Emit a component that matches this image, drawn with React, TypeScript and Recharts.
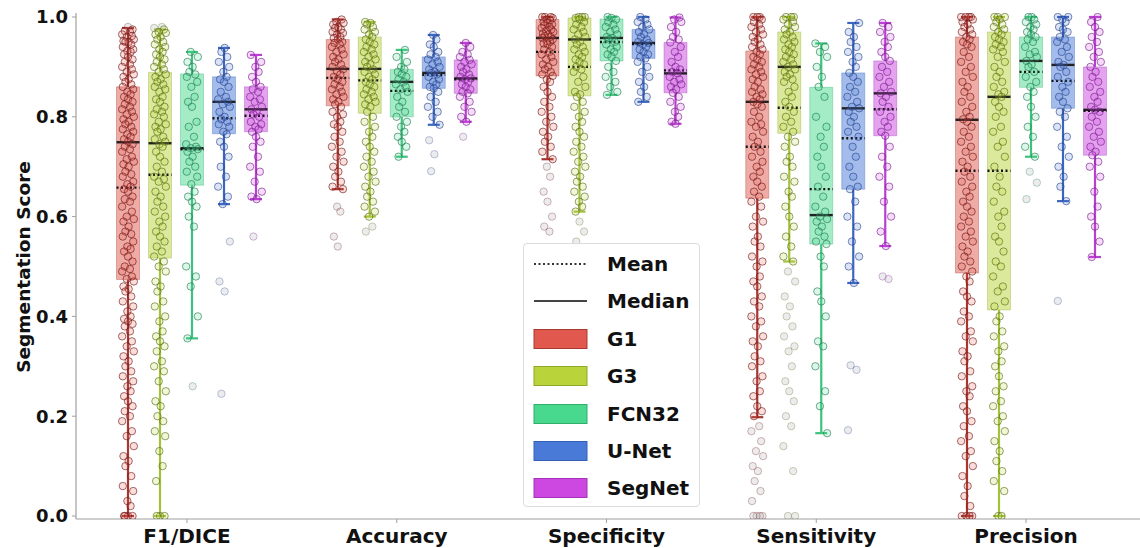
import React from 'react';
import { ScatterChart, Scatter, XAxis, YAxis, ReferenceArea, ReferenceLine } from 'recharts';

// ---------- categories ----------
const METRICS = ['F1/DICE', 'Accuracy', 'Specificity', 'Sensitivity', 'Precision'];
const MODELS = ['G1', 'G3', 'FCN32', 'U-Net', 'SegNet'];
const Y_TICKS = [0, 0.2, 0.4, 0.6, 0.8, 1.0];

// ---------- box statistics, per model, in METRICS order ----------
const G1_LO = [0, 0.655, 0.715, 0.198, 0];
const G1_Q1 = [0.474, 0.822, 0.882, 0.637, 0.487];
const G1_MED = [0.749, 0.896, 0.958, 0.83, 0.794];
const G1_MEAN = [0.658, 0.878, 0.93, 0.74, 0.692];
const G1_Q3 = [0.86, 0.955, 0.995, 0.932, 0.96];
const G1_HI = [0.978, 0.995, 1.0, 1.0, 1.0];

const G3_LO = [0, 0.6, 0.61, 0.51, 0];
const G3_Q1 = [0.517, 0.807, 0.842, 0.767, 0.413];
const G3_MED = [0.747, 0.896, 0.955, 0.9, 0.84];
const G3_MEAN = [0.684, 0.873, 0.9, 0.818, 0.692];
const G3_Q3 = [0.889, 0.96, 0.998, 0.97, 0.97];
const G3_HI = [0.975, 0.99, 1.0, 1.0, 1.0];

const FCN_LO = [0.356, 0.72, 0.844, 0.166, 0.72];
const FCN_Q1 = [0.663, 0.8, 0.912, 0.545, 0.859];
const FCN_MED = [0.737, 0.87, 0.958, 0.603, 0.912];
const FCN_MEAN = [0.735, 0.852, 0.95, 0.655, 0.89];
const FCN_Q3 = [0.886, 0.895, 0.996, 0.859, 0.96];
const FCN_HI = [0.93, 0.934, 1.0, 0.947, 1.0];

const UNET_LO = [0.625, 0.784, 0.83, 0.467, 0.631];
const UNET_Q1 = [0.766, 0.857, 0.917, 0.655, 0.817];
const UNET_MED = [0.83, 0.888, 0.948, 0.817, 0.904];
const UNET_MEAN = [0.797, 0.884, 0.946, 0.757, 0.872];
const UNET_Q3 = [0.88, 0.92, 0.975, 0.888, 0.96];
const UNET_HI = [0.938, 0.964, 1.0, 0.988, 1.0];

const SEG_LO = [0.635, 0.79, 0.786, 0.541, 0.519];
const SEG_Q1 = [0.77, 0.847, 0.848, 0.762, 0.723];
const SEG_MED = [0.815, 0.877, 0.887, 0.847, 0.814];
const SEG_MEAN = [0.802, 0.875, 0.893, 0.815, 0.812];
const SEG_Q3 = [0.86, 0.914, 0.949, 0.912, 0.9];
const SEG_HI = [0.924, 0.948, 0.999, 0.988, 1.0];

// ---------- individual scores (strip points) ----------
const G1_F1 = [0.98,0.975,0.972,0.97,0.965,0.962,0.96,0.955,0.952,0.95,0.95,0.945,0.94,0.935,0.932,0.93,0.925,0.92,0.915,0.91,0.905,0.9,0.895,0.89,0.885,0.88,0.875,0.87,0.865,0.86,0.855,0.85,0.845,0.84,0.835,0.83,0.825,0.82,0.815,0.81,0.805,0.8,0.795,0.79,0.785,0.78,0.775,0.77,0.765,0.76,0.755,0.75,0.745,0.74,0.735,0.73,0.72,0.715,0.71,0.705,0.7,0.69,0.685,0.68,0.67,0.665,0.66,0.655,0.65,0.64,0.635,0.63,0.62,0.61,0.6,0.595,0.59,0.58,0.57,0.565,0.56,0.55,0.54,0.535,0.53,0.52,0.51,0.5,0.495,0.49,0.48,0.475,0.47,0.46,0.455,0.45,0.44,0.43,0.42,0.41,0.4,0.395,0.39,0.385,0.38,0.37,0.36,0.35,0.34,0.33,0.32,0.31,0.3,0.29,0.28,0.27,0.26,0.25,0.24,0.23,0.22,0.21,0.2,0.19,0.17,0.16,0.14,0.12,0.11,0.1,0.08,0.06,0.05,0.03,0.02,0,0,0,0];
const G1_ACC = [0.995,0.99,0.988,0.985,0.98,0.978,0.975,0.97,0.968,0.965,0.96,0.958,0.955,0.95,0.948,0.945,0.94,0.935,0.93,0.925,0.92,0.915,0.91,0.905,0.9,0.895,0.89,0.885,0.88,0.875,0.87,0.865,0.86,0.855,0.85,0.845,0.84,0.835,0.83,0.825,0.82,0.81,0.805,0.8,0.79,0.785,0.78,0.77,0.76,0.75,0.74,0.73,0.72,0.71,0.7,0.69,0.68,0.67,0.66,0.655,0.62,0.61,0.56,0.54];
const G1_SPEC = [1,1,1,0.998,0.995,0.993,0.99,0.988,0.985,0.983,0.98,0.978,0.975,0.972,0.97,0.967,0.965,0.962,0.96,0.958,0.955,0.952,0.95,0.947,0.945,0.94,0.935,0.93,0.925,0.92,0.915,0.91,0.905,0.9,0.895,0.89,0.885,0.882,0.875,0.87,0.86,0.85,0.84,0.83,0.82,0.81,0.8,0.79,0.78,0.77,0.76,0.75,0.74,0.73,0.715,0.7,0.68,0.65,0.63,0.6,0.58,0.57];
const G1_SENS = [1,1,1,0.995,0.99,0.985,0.98,0.975,0.97,0.965,0.96,0.955,0.95,0.945,0.94,0.935,0.93,0.925,0.92,0.915,0.91,0.905,0.9,0.895,0.89,0.885,0.88,0.875,0.87,0.86,0.855,0.85,0.845,0.84,0.835,0.83,0.825,0.82,0.81,0.8,0.79,0.785,0.78,0.77,0.76,0.75,0.74,0.73,0.72,0.71,0.7,0.69,0.68,0.67,0.66,0.65,0.64,0.63,0.62,0.6,0.59,0.58,0.56,0.55,0.54,0.52,0.51,0.5,0.48,0.47,0.46,0.44,0.43,0.42,0.4,0.39,0.38,0.36,0.35,0.34,0.32,0.31,0.3,0.28,0.27,0.25,0.24,0.22,0.21,0.2,0.18,0.17,0.15,0.13,0.12,0.1,0.09,0.07,0.05,0.03,0,0,0,0];
const G1_PREC = [1,1,1,1,0.995,0.99,0.985,0.98,0.975,0.97,0.965,0.96,0.955,0.95,0.945,0.94,0.93,0.92,0.91,0.9,0.89,0.88,0.87,0.86,0.85,0.84,0.83,0.82,0.81,0.8,0.795,0.79,0.78,0.77,0.76,0.75,0.74,0.73,0.72,0.71,0.7,0.69,0.68,0.67,0.66,0.65,0.64,0.63,0.62,0.61,0.6,0.59,0.58,0.57,0.56,0.55,0.54,0.53,0.52,0.51,0.5,0.49,0.48,0.47,0.45,0.44,0.43,0.41,0.4,0.39,0.37,0.36,0.35,0.33,0.32,0.31,0.29,0.28,0.26,0.25,0.24,0.22,0.21,0.19,0.18,0.16,0.15,0.13,0.12,0.1,0.08,0.06,0.04,0.02,0,0,0,0];

const G3_F1 = [0.98,0.978,0.975,0.97,0.968,0.965,0.96,0.955,0.95,0.945,0.94,0.935,0.93,0.925,0.92,0.915,0.91,0.905,0.9,0.895,0.89,0.885,0.88,0.875,0.87,0.865,0.86,0.855,0.85,0.84,0.835,0.83,0.82,0.815,0.81,0.805,0.8,0.79,0.785,0.78,0.775,0.77,0.76,0.755,0.75,0.745,0.74,0.73,0.72,0.71,0.7,0.69,0.68,0.675,0.67,0.66,0.65,0.64,0.63,0.62,0.61,0.6,0.59,0.58,0.57,0.56,0.55,0.54,0.53,0.52,0.51,0.5,0.49,0.47,0.46,0.45,0.43,0.42,0.4,0.39,0.37,0.36,0.35,0.34,0.33,0.31,0.3,0.29,0.27,0.25,0.23,0.22,0.2,0.19,0.17,0.16,0.13,0.1,0.07,0,0,0];
const G3_ACC = [0.99,0.988,0.985,0.98,0.975,0.97,0.965,0.96,0.955,0.95,0.945,0.94,0.935,0.93,0.925,0.92,0.915,0.91,0.905,0.9,0.895,0.89,0.885,0.88,0.875,0.87,0.865,0.86,0.855,0.85,0.845,0.84,0.835,0.83,0.825,0.82,0.81,0.8,0.79,0.78,0.77,0.76,0.75,0.74,0.73,0.72,0.71,0.7,0.69,0.68,0.67,0.66,0.65,0.64,0.63,0.62,0.61,0.6,0.58,0.57];
const G3_SPEC = [1,1,1,0.998,0.995,0.99,0.985,0.98,0.975,0.97,0.965,0.96,0.955,0.95,0.945,0.94,0.935,0.93,0.925,0.92,0.915,0.91,0.905,0.9,0.895,0.89,0.88,0.87,0.86,0.85,0.845,0.84,0.83,0.82,0.81,0.8,0.79,0.78,0.77,0.76,0.75,0.74,0.73,0.72,0.71,0.7,0.69,0.68,0.67,0.66,0.65,0.64,0.63,0.62,0.61,0.59,0.57,0.55];
const G3_SENS = [1,1,1,0.995,0.99,0.985,0.98,0.975,0.97,0.965,0.96,0.955,0.95,0.945,0.94,0.935,0.93,0.925,0.92,0.915,0.91,0.905,0.9,0.895,0.89,0.885,0.88,0.875,0.87,0.86,0.85,0.84,0.83,0.82,0.81,0.8,0.79,0.78,0.77,0.76,0.75,0.74,0.72,0.71,0.7,0.68,0.67,0.65,0.64,0.62,0.6,0.58,0.56,0.54,0.52,0.51,0.49,0.47,0.44,0.42,0.4,0.38,0.36,0.34,0.33,0.3,0.27,0.25,0.23,0.2,0.18,0.14,0.09,0,0];
const G3_PREC = [1,1,1,0.995,0.99,0.985,0.98,0.975,0.97,0.965,0.96,0.955,0.95,0.945,0.94,0.935,0.93,0.92,0.91,0.9,0.89,0.88,0.87,0.86,0.85,0.845,0.84,0.83,0.82,0.81,0.8,0.78,0.77,0.75,0.74,0.72,0.7,0.68,0.66,0.65,0.63,0.61,0.6,0.58,0.56,0.55,0.53,0.51,0.5,0.48,0.46,0.45,0.43,0.42,0.4,0.39,0.37,0.36,0.34,0.33,0.31,0.3,0.28,0.26,0.25,0.23,0.22,0.2,0.19,0.17,0.15,0.13,0.11,0.09,0.07,0.05,0,0];

const FCN_F1 = [0.93,0.92,0.91,0.9,0.89,0.885,0.88,0.87,0.86,0.84,0.83,0.82,0.79,0.78,0.76,0.745,0.74,0.737,0.735,0.73,0.72,0.71,0.7,0.69,0.68,0.665,0.65,0.64,0.63,0.62,0.6,0.58,0.5,0.48,0.46,0.4,0.356,0.26];
const FCN_ACC = [0.934,0.92,0.91,0.9,0.895,0.89,0.885,0.88,0.875,0.87,0.865,0.86,0.855,0.85,0.84,0.83,0.82,0.81,0.8,0.79,0.78,0.77,0.76,0.75,0.74,0.72];
const FCN_SPEC = [1,0.998,0.995,0.99,0.985,0.98,0.975,0.97,0.965,0.96,0.958,0.955,0.95,0.945,0.94,0.935,0.93,0.925,0.92,0.912,0.9,0.89,0.88,0.87,0.86,0.85,0.844];
const FCN_SENS = [0.947,0.94,0.93,0.92,0.9,0.88,0.86,0.84,0.8,0.78,0.76,0.74,0.72,0.7,0.68,0.66,0.64,0.62,0.61,0.6,0.595,0.59,0.58,0.57,0.56,0.55,0.545,0.52,0.5,0.45,0.43,0.4,0.35,0.34,0.3,0.25,0.22,0.166];
const FCN_PREC = [1,1,0.995,0.99,0.985,0.98,0.975,0.97,0.965,0.96,0.955,0.95,0.94,0.93,0.925,0.92,0.912,0.905,0.9,0.89,0.88,0.87,0.86,0.85,0.84,0.82,0.8,0.78,0.76,0.74,0.72,0.69,0.668,0.635];

const UNET_F1 = [0.938,0.93,0.92,0.91,0.9,0.89,0.88,0.875,0.87,0.86,0.85,0.84,0.835,0.83,0.825,0.82,0.81,0.8,0.795,0.79,0.785,0.78,0.77,0.765,0.75,0.74,0.72,0.7,0.68,0.66,0.64,0.625,0.55,0.47,0.45,0.245];
const UNET_ACC = [0.964,0.955,0.945,0.94,0.93,0.925,0.92,0.915,0.91,0.905,0.9,0.895,0.89,0.888,0.885,0.88,0.875,0.87,0.865,0.86,0.857,0.85,0.84,0.83,0.82,0.81,0.8,0.784,0.753,0.725,0.691];
const UNET_SPEC = [1,0.995,0.99,0.985,0.98,0.975,0.97,0.965,0.96,0.955,0.95,0.948,0.945,0.94,0.935,0.93,0.925,0.92,0.917,0.91,0.9,0.89,0.88,0.87,0.86,0.85,0.84,0.83];
const UNET_SENS = [0.988,0.97,0.96,0.95,0.94,0.93,0.92,0.91,0.9,0.888,0.88,0.87,0.86,0.85,0.84,0.83,0.82,0.817,0.81,0.8,0.79,0.78,0.77,0.76,0.74,0.72,0.7,0.68,0.66,0.655,0.63,0.6,0.58,0.55,0.52,0.5,0.467,0.302,0.293,0.172];
const UNET_PREC = [1,1,0.995,0.99,0.98,0.975,0.97,0.96,0.955,0.95,0.94,0.93,0.92,0.91,0.904,0.9,0.89,0.88,0.87,0.86,0.85,0.84,0.83,0.817,0.81,0.8,0.78,0.76,0.74,0.72,0.7,0.68,0.66,0.631,0.431];

const SEG_F1 = [0.924,0.91,0.9,0.89,0.88,0.87,0.86,0.855,0.85,0.84,0.835,0.83,0.82,0.815,0.81,0.805,0.8,0.79,0.785,0.78,0.775,0.77,0.76,0.75,0.74,0.72,0.7,0.69,0.67,0.65,0.64,0.635,0.56];
const SEG_ACC = [0.948,0.94,0.93,0.925,0.92,0.914,0.91,0.905,0.9,0.895,0.89,0.885,0.88,0.877,0.875,0.87,0.865,0.86,0.855,0.85,0.847,0.84,0.83,0.82,0.81,0.8,0.79,0.76];
const SEG_SPEC = [0.999,0.995,0.99,0.98,0.97,0.96,0.955,0.949,0.94,0.93,0.92,0.91,0.9,0.895,0.89,0.887,0.88,0.875,0.87,0.865,0.86,0.855,0.848,0.84,0.83,0.82,0.81,0.8,0.79,0.786];
const SEG_SENS = [0.988,0.98,0.97,0.96,0.95,0.94,0.93,0.92,0.912,0.9,0.89,0.88,0.87,0.86,0.85,0.847,0.84,0.83,0.82,0.81,0.8,0.79,0.78,0.77,0.762,0.74,0.72,0.7,0.68,0.66,0.63,0.6,0.57,0.541,0.48,0.475];
const SEG_PREC = [1,0.99,0.98,0.97,0.96,0.95,0.94,0.93,0.92,0.91,0.9,0.89,0.88,0.87,0.86,0.85,0.84,0.83,0.82,0.814,0.81,0.8,0.79,0.78,0.77,0.76,0.75,0.74,0.73,0.723,0.71,0.7,0.68,0.65,0.62,0.6,0.58,0.55,0.519];

// ---------- grouping (built from the arrays above) ----------
const POINTS = [
  [G1_F1, G1_ACC, G1_SPEC, G1_SENS, G1_PREC],
  [G3_F1, G3_ACC, G3_SPEC, G3_SENS, G3_PREC],
  [FCN_F1, FCN_ACC, FCN_SPEC, FCN_SENS, FCN_PREC],
  [UNET_F1, UNET_ACC, UNET_SPEC, UNET_SENS, UNET_PREC],
  [SEG_F1, SEG_ACC, SEG_SPEC, SEG_SENS, SEG_PREC],
];
const LO = [G1_LO, G3_LO, FCN_LO, UNET_LO, SEG_LO];
const Q1 = [G1_Q1, G3_Q1, FCN_Q1, UNET_Q1, SEG_Q1];
const MED = [G1_MED, G3_MED, FCN_MED, UNET_MED, SEG_MED];
const MEAN = [G1_MEAN, G3_MEAN, FCN_MEAN, UNET_MEAN, SEG_MEAN];
const Q3 = [G1_Q3, G3_Q3, FCN_Q3, UNET_Q3, SEG_Q3];
const HI = [G1_HI, G3_HI, FCN_HI, UNET_HI, SEG_HI];

// ---------- styling ----------
const BASE = ['#e0584e', '#b8d43a', '#48d98e', '#4a7ad8', '#cc48e0'];
const EDGE = ['#a83a32', '#8ea82a', '#2fae6c', '#3460b8', '#a233b8'];
const WHISK = ['#a8362f', '#a2c23a', '#3cc47c', '#3a66c0', '#bb3ed2'];
const DOT = ['#6e1414', '#566a10', '#217852', '#26428a', '#741c88'];
const FONT = '"DejaVu Sans", sans-serif';

const PX_PER_UNIT = 209.75;
const GROUP_STEP = 32 / PX_PER_UNIT;
const GROUP_SHIFT = 5 / PX_PER_UNIT;
const BOX_HALF = 11.5 / PX_PER_UNIT;
const CAP_HALF = 6 / PX_PER_UNIT;
const JITTER_HALF = 6.5 / PX_PER_UNIT;
const JIT = [0, 0.7, -0.5, 0.3, -0.9, 0.6, -0.2, 0.9, -0.7, 0.1, -0.4, 0.5, -0.8, 0.8, -0.1, 0.4, -0.6];
const XDOM: [number, number] = [-111 / PX_PER_UNIT, 953 / PX_PER_UNIT];
const YDOM: [number, number] = [-0.006, 1.008];

const center = (m: number, g: number) => m + GROUP_SHIFT + (g - 2) * GROUP_STEP;

const scatterData = MODELS.map((_, g) => {
  const rows: { x: number; y: number; out: boolean }[] = [];
  POINTS[g].forEach((vals, m) => {
    vals.forEach((v, k) => {
      rows.push({
        x: center(m, g) + JIT[(k + g * 3 + m * 5) % JIT.length] * JITTER_HALF,
        y: v,
        out: v < LO[g][m] - 1e-9 || v > HI[g][m] + 1e-9,
      });
    });
  });
  return rows;
});

const makeDot = (g: number) => (p: any) => {
  const { cx, cy, payload } = p;
  if (cx == null || cy == null) return <g />;
  if (payload.out) {
    return <circle cx={cx} cy={cy} r={3.7} fill="#b4b4bc" fillOpacity={0.25} stroke={DOT[g]} strokeOpacity={0.3} strokeWidth={1} />;
  }
  return <circle cx={cx} cy={cy} r={3.7} fill={BASE[g]} fillOpacity={0.2} stroke={DOT[g]} strokeOpacity={0.62} strokeWidth={1} />;
};

const YLabel = () => (
  <text x={23} y={267} transform="rotate(-90, 23, 267)" textAnchor="middle" dominantBaseline="central"
    style={{ fontFamily: FONT, fontWeight: 'bold', fontSize: 18.5, fill: '#111' }}>
    Segmentation Score
  </text>
);

const LegendBox = () => {
  const rowH = 37.4;
  const items = [
    { label: 'Mean', kind: 'mean' },
    { label: 'Median', kind: 'median' },
    ...MODELS.map((m, i) => ({ label: m, kind: 'box', i })),
  ] as any[];
  return (
    <div style={{ position: 'absolute', left: 523, top: 243, width: 177, height: 264, border: '1px solid #dcdcdc', borderRadius: 4, background: 'rgba(255,255,255,0.85)', boxSizing: 'border-box' }}>
      {items.map((it, idx) => {
        const cy = 20 + idx * rowH;
        return (
          <div key={idx} style={{ position: 'absolute', left: 0, top: cy - 14, height: 28, width: 177 }}>
            <svg width={60} height={28} style={{ position: 'absolute', left: 8, top: 0 }}>
              {it.kind === 'mean' && <line x1={2} x2={55} y1={14} y2={14} stroke="#333" strokeWidth={2} strokeDasharray="2 2.5" />}
              {it.kind === 'median' && <line x1={2} x2={55} y1={14} y2={14} stroke="#444" strokeWidth={2} />}
              {it.kind === 'box' && <rect x={2} y={4.5} width={53} height={19} fill={BASE[it.i]} stroke={EDGE[it.i]} strokeWidth={1} />}
            </svg>
            <span style={{ position: 'absolute', left: 83, top: 0, lineHeight: '28px', fontFamily: FONT, fontWeight: 'bold', fontSize: 20, color: '#111' }}>{it.label}</span>
          </div>
        );
      })}
    </div>
  );
};

export default function App() {
  const boxes: React.ReactNode[] = [];
  const lines: React.ReactNode[] = [];
  MODELS.forEach((_, g) => {
    METRICS.forEach((__, m) => {
      const c = center(m, g);
      boxes.push(
        <ReferenceArea key={`b${g}-${m}`} x1={c - BOX_HALF} x2={c + BOX_HALF} y1={Q1[g][m]} y2={Q3[g][m]}
          fill={BASE[g]} fillOpacity={0.5} stroke={EDGE[g]} strokeOpacity={0.35} strokeWidth={1} ifOverflow="visible" />
      );
      const seg = (key: string, x1: number, y1: number, x2: number, y2: number, stroke: string, w: number, dash?: string) => (
        <ReferenceLine key={key} segment={[{ x: x1, y: y1 }, { x: x2, y: y2 }]} stroke={stroke} strokeWidth={w}
          strokeDasharray={dash} ifOverflow="visible" />
      );
      lines.push(seg(`wl${g}-${m}`, c, LO[g][m], c, Q1[g][m], WHISK[g], 2.2));
      lines.push(seg(`wh${g}-${m}`, c, Q3[g][m], c, HI[g][m], WHISK[g], 2.2));
      lines.push(seg(`cl${g}-${m}`, c - CAP_HALF, LO[g][m], c + CAP_HALF, LO[g][m], WHISK[g], 2.2));
      lines.push(seg(`ch${g}-${m}`, c - CAP_HALF, HI[g][m], c + CAP_HALF, HI[g][m], WHISK[g], 2.2));
      lines.push(seg(`md${g}-${m}`, c - BOX_HALF, MED[g][m], c + BOX_HALF, MED[g][m], '#222', 2.4));
      lines.push(seg(`mn${g}-${m}`, c - BOX_HALF, MEAN[g][m], c + BOX_HALF, MEAN[g][m], '#111', 2.4, '2 2.5'));
    });
  });

  const tickStyle = { fontFamily: FONT, fontWeight: 'bold' as const, fill: '#111' };

  return (
    <div style={{ position: 'absolute', left: 0, top: 0, width: 1140, height: 548, background: '#fff', overflow: 'hidden' }}>
      <ScatterChart width={1140} height={548} margin={{ top: 13, right: 0, bottom: 0, left: 0 }}>
        <XAxis xAxisId="top" orientation="top" type="number" domain={XDOM} allowDataOverflow height={0}
          tick={false} tickLine={false} axisLine={{ stroke: '#a0a0a0', strokeWidth: 1.2 }} />
        <XAxis type="number" dataKey="x" domain={XDOM} allowDataOverflow ticks={[0, 1, 2, 3, 4]} interval={0}
          tickFormatter={(v: number) => METRICS[Math.round(v)]} height={29} tickSize={4} tickMargin={6}
          tick={{ ...tickStyle, fontSize: 20 }} axisLine={{ stroke: '#a0a0a0', strokeWidth: 1.2 }} tickLine={{ stroke: '#a0a0a0' }} />
        <YAxis type="number" dataKey="y" domain={YDOM} allowDataOverflow ticks={Y_TICKS} interval={0}
          tickFormatter={(v: number) => v.toFixed(1)} width={76} tickSize={4} tickMargin={4}
          tick={{ ...tickStyle, fontSize: 18 }} axisLine={{ stroke: '#a0a0a0', strokeWidth: 1.2 }} tickLine={{ stroke: '#a0a0a0' }}
          label={{ content: () => <YLabel /> }} />
        {boxes}
        {MODELS.map((name, g) => (
          <Scatter key={name} name={name} data={scatterData[g]} shape={makeDot(g)} isAnimationActive={false} />
        ))}
        {lines}
      </ScatterChart>
      <LegendBox />
    </div>
  );
}
